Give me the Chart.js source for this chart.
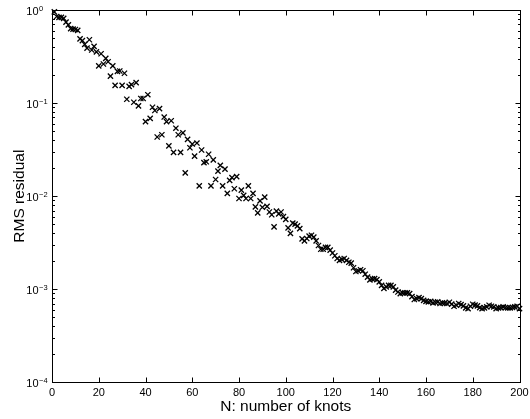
<!DOCTYPE html>
<html>
<head>
<meta charset="utf-8">
<script src="https://cdn.jsdelivr.net/npm/chart.js@4/dist/chart.umd.min.js"></script>
<style>
  html, body { margin: 0; padding: 0; background: #fff; }
  #wrap { width: 530px; height: 419px; }
</style>
</head>
<body>
<div id="wrap"><canvas id="rmsChart" width="530" height="419"></canvas></div>
<script>
// Número de nodos (eje x)
const knots = [
    1, 2, 3, 4, 5, 6, 7, 8, 9, 10, 11, 12, 13, 14, 15, 16, 17, 18, 19, 20,
    21, 22, 23, 24, 25, 26, 27, 28, 29, 30, 31, 32, 33, 34, 35, 36, 37, 38, 39, 40,
    41, 42, 43, 44, 45, 46, 47, 48, 49, 50, 51, 52, 53, 54, 55, 56, 57, 58, 59, 60,
    61, 62, 63, 64, 65, 66, 67, 68, 69, 70, 71, 72, 73, 74, 75, 76, 77, 78, 79, 80,
    81, 82, 83, 84, 85, 86, 87, 88, 89, 90, 91, 92, 93, 94, 95, 96, 97, 98, 99, 100,
    101, 102, 103, 104, 105, 106, 107, 108, 109, 110, 111, 112, 113, 114, 115, 116, 117, 118, 119, 120,
    121, 122, 123, 124, 125, 126, 127, 128, 129, 130, 131, 132, 133, 134, 135, 136, 137, 138, 139, 140,
    141, 142, 143, 144, 145, 146, 147, 148, 149, 150, 151, 152, 153, 154, 155, 156, 157, 158, 159, 160,
    161, 162, 163, 164, 165, 166, 167, 168, 169, 170, 171, 172, 173, 174, 175, 176, 177, 178, 179, 180,
    181, 182, 183, 184, 185, 186, 187, 188, 189, 190, 191, 192, 193, 194, 195, 196, 197, 198, 199, 200
];

// Residuo RMS para cada N
const rmsResidual = [
    0.955, 0.851, 0.832, 0.832, 0.813, 0.741, 0.692, 0.631, 0.624, 0.617,
    0.603, 0.490, 0.468, 0.427, 0.389, 0.479, 0.372, 0.407, 0.355, 0.251,
    0.339, 0.263, 0.302, 0.278, 0.195, 0.251, 0.155, 0.219, 0.221, 0.155,
    0.209, 0.110, 0.151, 0.158, 0.102, 0.166, 0.0933, 0.112, 0.112, 0.0631,
    0.123, 0.0684, 0.0902, 0.0832, 0.0432, 0.0871, 0.0457, 0.0708, 0.0631, 0.0347,
    0.0646, 0.0295, 0.0537, 0.0457, 0.0295, 0.0479, 0.0178, 0.0407, 0.0331, 0.0363,
    0.0269, 0.0372, 0.0129, 0.0313, 0.0229, 0.0234, 0.0282, 0.0129, 0.0245, 0.0151,
    0.0186, 0.0214, 0.0129, 0.0195, 0.0107, 0.0148, 0.0158, 0.0120, 0.0162, 0.00944,
    0.0116, 0.0102, 0.00944, 0.0129, 0.00944, 0.0107, 0.00767, 0.00661, 0.00891, 0.00759,
    0.00977, 0.00776, 0.00676, 0.00631, 0.00468, 0.00692, 0.00646, 0.00676, 0.00603, 0.00562,
    0.00457, 0.00398, 0.00513, 0.00501, 0.00479, 0.00447, 0.00347, 0.00331, 0.00351, 0.00372,
    0.00380, 0.00363, 0.00331, 0.00295, 0.00269, 0.00269, 0.00282, 0.00282, 0.00263, 0.00245,
    0.00229, 0.00214, 0.00204, 0.00209, 0.00214, 0.00204, 0.00195, 0.00191, 0.00170, 0.00155,
    0.00158, 0.00162, 0.00158, 0.00145, 0.00135, 0.00126, 0.00129, 0.00130, 0.00127, 0.00120,
    0.00110, 0.00102, 0.00106, 0.00110, 0.00110, 0.00106, 0.000977, 0.000933, 0.000897, 0.000912,
    0.000912, 0.000912, 0.000897, 0.000832, 0.000776, 0.000794, 0.000813, 0.000794, 0.000759, 0.000741,
    0.000731, 0.000741, 0.000713, 0.000724, 0.000731, 0.000702, 0.000713, 0.000708, 0.000702, 0.000724,
    0.000692, 0.000656, 0.000673, 0.000702, 0.000684, 0.000662, 0.000631, 0.000619, 0.000656, 0.000690,
    0.000676, 0.000662, 0.000635, 0.000619, 0.000631, 0.000646, 0.000673, 0.000656, 0.000646, 0.000619,
    0.000631, 0.000635, 0.000646, 0.000635, 0.000631, 0.000630, 0.000638, 0.000646, 0.000656, 0.000619
];

// Marcas de los ejes
const xTicks = [0, 20, 40, 60, 80, 100, 120, 140, 160, 180, 200];
const yDecades = [1e0, 1e-1, 1e-2, 1e-3, 1e-4];
const yExponents = ['0', '\u22121', '\u22122', '\u22123', '\u22124'];
const yMinorMultipliers = [2, 3, 4, 5, 6, 7, 8, 9];

const xTitle = 'N: number of knots';
const yTitle = 'RMS residual';

const FONT = "'Liberation Sans', Arial, Helvetica, sans-serif";

/**
 * Dibuja la caja de ejes al estilo MATLAB: marcas hacia dentro en los cuatro lados,
 * etiquetas con exponentes y títulos de ejes.
 */
const matlabAxes = {
    id: 'matlabAxes',
    afterDraw(chart) {
        const { ctx, chartArea: a, scales } = chart;
        const xs = scales.x, ys = scales.y;
        const L = Math.round(a.left) + 0.5, R = Math.round(a.right) + 0.5;
        const T = Math.round(a.top) + 0.5, B = Math.round(a.bottom) + 0.5;
        ctx.save();
        ctx.strokeStyle = '#000';
        ctx.lineWidth = 1;
        ctx.strokeRect(L, T, R - L, B - T);

        ctx.beginPath();
        // marcas del eje x (abajo y arriba)
        xTicks.forEach(v => {
            const px = Math.round(xs.getPixelForValue(v)) + 0.5;
            ctx.moveTo(px, B); ctx.lineTo(px, B - 5);
            ctx.moveTo(px, T); ctx.lineTo(px, T + 5);
        });
        // marcas mayores y menores del eje y (izquierda y derecha)
        yDecades.forEach(d => {
            const py = Math.round(ys.getPixelForValue(d)) + 0.5;
            ctx.moveTo(L, py); ctx.lineTo(L + 5, py);
            ctx.moveTo(R, py); ctx.lineTo(R - 5, py);
            if (d < 1) {
                yMinorMultipliers.forEach(m => {
                    const pm = Math.round(ys.getPixelForValue(d * m)) + 0.5;
                    ctx.moveTo(L, pm); ctx.lineTo(L + 2.5, pm);
                    ctx.moveTo(R, pm); ctx.lineTo(R - 2.5, pm);
                });
            }
        });
        ctx.stroke();

        ctx.fillStyle = '#000';
        // etiquetas del eje x
        ctx.font = '11px ' + FONT;
        ctx.textAlign = 'center';
        ctx.textBaseline = 'middle';
        xTicks.forEach(v => {
            ctx.fillText(String(v), xs.getPixelForValue(v), a.bottom + 10.5);
        });

        // etiquetas del eje y: 10 con exponente
        yDecades.forEach((d, i) => {
            const py = ys.getPixelForValue(d);
            ctx.font = '11px ' + FONT;
            ctx.textAlign = 'right';
            ctx.textBaseline = 'middle';
            ctx.fillText('10', 38.5, py + 1.5);
            ctx.font = '7.5px ' + FONT;
            ctx.textAlign = 'left';
            ctx.textBaseline = 'alphabetic';
            ctx.fillText(yExponents[i], 39, py + 0.5);
        });

        // títulos
        ctx.font = '15.5px ' + FONT;
        ctx.textAlign = 'center';
        ctx.textBaseline = 'middle';
        ctx.fillText(xTitle, (a.left + a.right) / 2, 407);
        ctx.translate(19.5, (a.top + a.bottom) / 2);
        ctx.rotate(-Math.PI / 2);
        ctx.fillText(yTitle, 0, 0);
        ctx.restore();
    }
};

const points = knots.map((n, i) => ({ x: n, y: rmsResidual[i] }));

new Chart(document.getElementById('rmsChart').getContext('2d'), {
    type: 'scatter',
    data: {
        datasets: [{
            data: points,
            pointStyle: 'crossRot',
            pointRadius: 3.7,
            pointBorderWidth: 1.3,
            borderColor: '#000',
            backgroundColor: '#000',
            clip: false
        }]
    },
    options: {
        responsive: false,
        animation: false,
        devicePixelRatio: 1,
        layout: { padding: { left: 52, right: 10.5, top: 10, bottom: 36.7 } },
        plugins: { legend: { display: false }, tooltip: { enabled: false } },
        scales: {
            x: {
                type: 'linear', min: 0, max: 200, display: false,
                grid: { display: false, drawTicks: false }
            },
            y: {
                type: 'logarithmic', min: 1e-4, max: 1, display: false,
                grid: { display: false, drawTicks: false }
            }
        }
    },
    plugins: [matlabAxes]
});
</script>
</body>
</html>
